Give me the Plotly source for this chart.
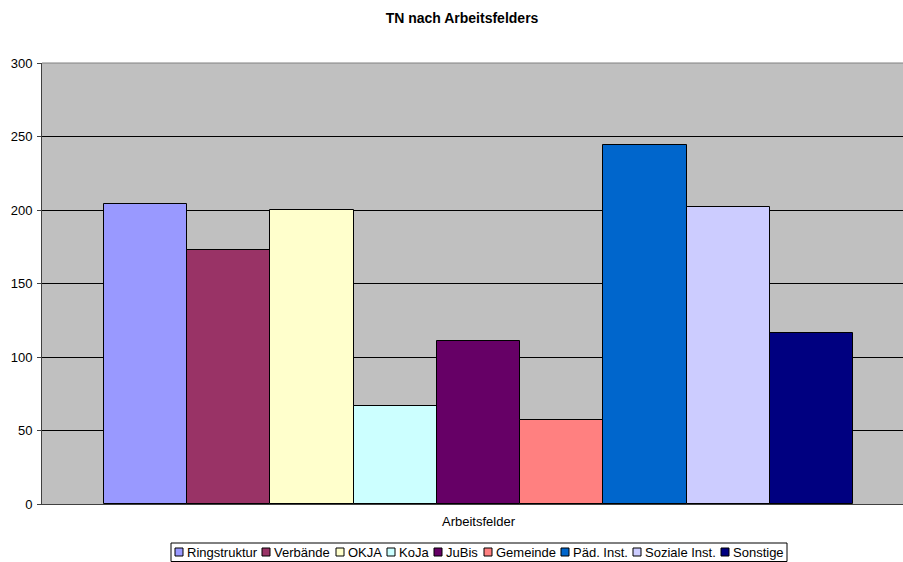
import plotly.graph_objects as go

categories = ["Arbeitsfelder"]
series_names = ["Ringstruktur", "Verbände", "OKJA", "KoJa", "JuBis",
                "Gemeinde", "Päd. Inst.", "Soziale Inst.", "Sonstige"]
series_values = [204, 173, 200, 67, 111, 57, 244, 202, 116]
series_colors = ["#9999FF", "#993366", "#FFFFCC", "#CCFFFF", "#660066",
                 "#FF8080", "#0066CC", "#CCCCFF", "#000080"]
y_ticks = [0, 50, 100, 150, 200, 250, 300]

FONT = "Liberation Sans, Arial, sans-serif"
W, H = 903, 562
ML, MR, MT, MB = 42, 0, 63, 58
PW = W - ML - MR
PH = H - MT - MB

def px_x(px):
    return (px - ML) / PW

def px_y(py):
    return (H - MB - py) / PH

fig = go.Figure()
for name, val, col in zip(series_names, series_values, series_colors):
    fig.add_trace(go.Bar(
        name=name, x=categories, y=[val],
        marker=dict(color=col, line=dict(color="#000000", width=1)),
    ))

# custom Excel-style legend (layout only)
legend_sym_x = [175, 262, 336, 387, 434, 484, 561, 633, 721]
shapes = [dict(type="rect", xref="paper", yref="paper",
               x0=px_x(171), x1=px_x(787), y0=px_y(543), y1=px_y(561.5),
               line=dict(color="#000000", width=1), fillcolor="#FFFFFF", layer="above")]
annotations = []
for sx, name, col in zip(legend_sym_x, series_names, series_colors):
    shapes.append(dict(type="rect", xref="paper", yref="paper",
                       x0=px_x(sx), x1=px_x(sx + 8), y0=px_y(548), y1=px_y(556),
                       line=dict(color="#000000", width=1), fillcolor=col, layer="above"))
    annotations.append(dict(text=name, xref="paper", yref="paper",
                            x=px_x(sx + 10), y=px_y(552.5), xanchor="left", yanchor="middle",
                            showarrow=False, font=dict(family=FONT, size=13, color="#000000")))
# grey plot border on top
shapes.append(dict(type="line", xref="paper", yref="paper", x0=0, x1=1, y0=1, y1=1,
                   line=dict(color="#808080", width=1), layer="above"))

fig.update_layout(
    width=W, height=H, autosize=False,
    margin=dict(l=ML, r=MR, t=MT, b=MB, pad=0, autoexpand=False),
    paper_bgcolor="#FFFFFF",
    plot_bgcolor="#C0C0C0",
    font=dict(family=FONT, size=13, color="#000000"),
    barmode="group", bargap=0, bargroupgap=0,
    title=dict(text="<b>TN nach Arbeitsfelders</b>", x=462 / W, xanchor="center",
               y=1 - 18 / H, yanchor="middle", xref="container", yref="container",
               font=dict(family=FONT, size=14, color="#000000")),
    showlegend=False,
    hovermode=False,
    shapes=shapes,
    annotations=annotations,
    xaxis=dict(type="category", range=[-0.5828, 0.5668], showgrid=False,
               showline=True, linecolor="#404040", linewidth=1,
               ticks="", ticklabelstandoff=5, tickfont=dict(size=13)),
    yaxis=dict(range=[0, 300], tickvals=y_ticks, showgrid=True, gridcolor="#000000",
               gridwidth=1, showline=True, linecolor="#404040", linewidth=1,
               ticks="outside", ticklen=4, tickcolor="#404040", ticklabelstandoff=2,
               zeroline=False, tickfont=dict(size=13)),
)

fig.write_html("out.html", config={"responsive": False, "displayModeBar": False},
               default_width=f"{W}px", default_height=f"{H}px",
               post_script="document.body.style.margin='0px';document.body.style.overflow='hidden';")
